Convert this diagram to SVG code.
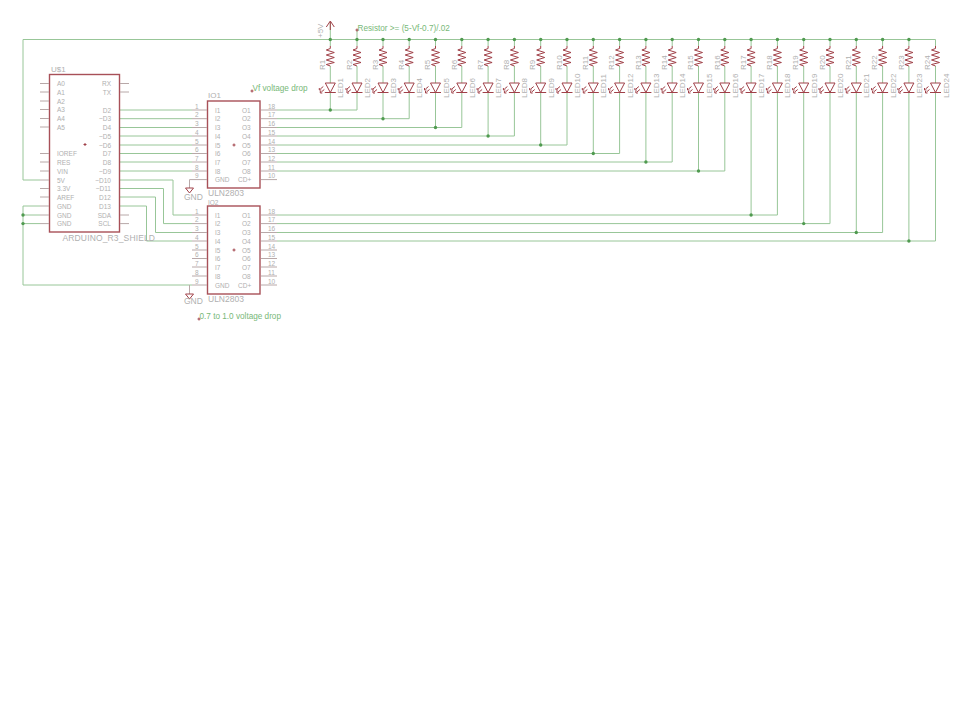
<svg xmlns="http://www.w3.org/2000/svg" xmlns:xlink="http://www.w3.org/1999/xlink" width="960" height="720" viewBox="0 0 960 720">
<style>
text{font-family:"Liberation Sans",Arial,sans-serif;fill:#b0b0b0}
.w{fill:none;stroke:#98c698;stroke-width:1}
.pin{fill:none;stroke:#b8a8a8;stroke-width:1}
.box{fill:none;stroke:#a85058;stroke-width:1.4}
.sym{fill:none;stroke:#a04048;stroke-width:1}
.j{fill:#4f9a4f}
.s{font-size:6.5px}
.n{font-size:8px}
.m{font-size:8.5px}
.g{font-size:8.2px;fill:#78b878}
.e{text-anchor:end}
</style>
<defs>
<g id="res"><path class="w" d="M0 66V83"/><path class="sym" d="M0 46V48.500L-4 50L4 52.500L-4 55L4 57.500L-4 60L4 62.500L-4 64.500L0 66"/></g>
<g id="led"><path class="sym" d="M-5 83H5L0 92.500ZM-5.500 92.500H5.500"/><path class="sym" d="M-7 86.500L-10 89M-6 89.500L-9 92M-11 88V90H-9M-10 91V93H-8"/></g>
<g id="gnd"><path class="sym" d="M-4 0H4L0 5Z"/></g>
<circle id="dot" class="j" r="1.7"/>
<path id="cr" class="sym" d="M-1.500 0H1.500M0 -1.500V1.500"/>
</defs>

<g id="connectors">
<path class="w" d="M23 39.500H935.500V46M23 39.500V180H40M23 206H40M23 215H40M23 223.600H40M23 206V285H192"/>
<path class="w" d="M330.300 22V46M357 30V46M383 39.500V46M409.200 39.500V46M435.500 39.500V46M461.800 39.500V46M488.100 39.500V46M514.400 39.500V46M540.700 39.500V46M567 39.500V46M593.300 39.500V46M619.600 39.500V46M645.900 39.500V46M672.200 39.500V46M698.500 39.500V46M724.800 39.500V46M751.100 39.500V46M777.400 39.500V46M803.700 39.500V46M830 39.500V46M856.300 39.500V46M882.600 39.500V46M908.900 39.500V46"/>
<path class="w" d="M120 110H192M120 118.700H192M120 127.500H192M120 136H192M120 145H192M120 153.500H192M120 162H192M120 171H192"/>
<path class="w" d="M120 180H173V215H192M120 188.500H163.500V223.600H192M120 197H155.500V232.500H192M120 206H146.500V241H192"/>
<path class="w" d="M277 110H357V92M330.300 92V110M277 118.700H409.200V92M383 92V118.700M277 127.500H461.800V92M435.500 92V127.500M277 136H514.400V92M488.100 92V136M277 145H567V92M540.700 92V145M277 153.500H619.600V92M593.300 92V153.500M277 162H672.200V92M645.900 92V162M277 171H724.800V92M698.500 92V171"/>
<path class="w" d="M277 215H777.400V92M751.100 92V215M277 223.600H830V92M803.700 92V223.600M277 232.500H882.600V92M856.300 92V232.500M277 241H935.500V92M908.900 92V241"/>
<path class="pin" d="M192 179.600H189.500V188M189.500 285V294"/>
<g>
<use xlink:href="#dot" x="330.300" y="39.500"/><use xlink:href="#dot" x="357" y="39.500"/><use xlink:href="#dot" x="383" y="39.500"/><use xlink:href="#dot" x="409.200" y="39.500"/><use xlink:href="#dot" x="435.500" y="39.500"/><use xlink:href="#dot" x="461.800" y="39.500"/><use xlink:href="#dot" x="488.100" y="39.500"/><use xlink:href="#dot" x="514.400" y="39.500"/><use xlink:href="#dot" x="540.700" y="39.500"/><use xlink:href="#dot" x="567" y="39.500"/><use xlink:href="#dot" x="593.300" y="39.500"/><use xlink:href="#dot" x="619.600" y="39.500"/><use xlink:href="#dot" x="645.900" y="39.500"/><use xlink:href="#dot" x="672.200" y="39.500"/><use xlink:href="#dot" x="698.500" y="39.500"/><use xlink:href="#dot" x="724.800" y="39.500"/><use xlink:href="#dot" x="751.100" y="39.500"/><use xlink:href="#dot" x="777.400" y="39.500"/><use xlink:href="#dot" x="803.700" y="39.500"/><use xlink:href="#dot" x="830" y="39.500"/><use xlink:href="#dot" x="856.300" y="39.500"/><use xlink:href="#dot" x="882.600" y="39.500"/><use xlink:href="#dot" x="908.900" y="39.500"/>
<use xlink:href="#dot" x="330.300" y="110"/><use xlink:href="#dot" x="383" y="118.700"/><use xlink:href="#dot" x="435.500" y="127.500"/><use xlink:href="#dot" x="488.100" y="136"/><use xlink:href="#dot" x="540.700" y="145"/><use xlink:href="#dot" x="593.300" y="153.500"/><use xlink:href="#dot" x="645.900" y="162"/><use xlink:href="#dot" x="698.500" y="171"/><use xlink:href="#dot" x="751.100" y="215"/><use xlink:href="#dot" x="803.700" y="223.600"/><use xlink:href="#dot" x="856.300" y="232.500"/><use xlink:href="#dot" x="908.900" y="241"/>
<use xlink:href="#dot" x="23" y="215"/><use xlink:href="#dot" x="23" y="223.600"/>
</g>
</g>

<g id="U1">
<rect class="box" x="49.500" y="74.500" width="70" height="157.500"/>
<path class="pin" d="M40 83.500H49M40 92H49M40 101H49M40 109.500H49M40 118.500H49M40 127H49M40 153.500H49M40 162H49M40 171H49M40 180H49M40 188.500H49M40 197H49M40 206H49M40 215H49M40 223.600H49M120 83.500H129M120 92H129M120 215H129M120 223.600H129"/>
<use xlink:href="#cr" x="85" y="144.500"/>
<text class="n" x="51" y="72">U$1</text>
<text class="m" x="62.500" y="241" textLength="92.500">ARDUINO_R3_SHIELD</text>
<g class="s">
<text x="57" y="86">A0</text><text x="57" y="95">A1</text><text x="57" y="103.500">A2</text><text x="57" y="112">A3</text><text x="57" y="121">A4</text><text x="57" y="130">A5</text>
<text x="57" y="156">IOREF</text><text x="57" y="165">RES</text><text x="57" y="174">VIN</text><text x="57" y="182.500">5V</text><text x="57" y="191">3.3V</text><text x="57" y="200">AREF</text><text x="57" y="208.500">GND</text><text x="57" y="217.500">GND</text><text x="57" y="226">GND</text>
<text class="e" x="111" y="86">RX</text><text class="e" x="111" y="95">TX</text><text class="e" x="111" y="112.500">D2</text><text class="e" x="111" y="121">~D3</text><text class="e" x="111" y="130">D4</text><text class="e" x="111" y="139">~D5</text><text class="e" x="111" y="147.500">~D6</text><text class="e" x="111" y="156">D7</text><text class="e" x="111" y="165">D8</text><text class="e" x="111" y="174">~D9</text><text class="e" x="111" y="182.500">~D10</text><text class="e" x="111" y="191">~D11</text><text class="e" x="111" y="200">D12</text><text class="e" x="111" y="208.500">D13</text><text class="e" x="111" y="217.500">SDA</text><text class="e" x="111" y="226">SCL</text>
</g>
</g>

<g id="IO1">
<rect class="box" x="207.500" y="101" width="52.500" height="87"/>
<path class="pin" d="M192 110H207M192 118.700H207M192 127.500H207M192 136H207M192 145H207M192 153.500H207M192 162H207M192 171H207M192 179.600H207M261 110H277M261 118.700H277M261 127.500H277M261 136H277M261 145H277M261 153.500H277M261 162H277M261 171H277M261 179.600H277"/>
<use xlink:href="#cr" x="234" y="145"/>
<text class="n" x="208" y="98">IO1</text><text class="m" x="208" y="196">ULN2803</text>
<g class="s">
<text x="215" y="112.500">I1</text><text x="215" y="121">I2</text><text x="215" y="130">I3</text><text x="215" y="138.500">I4</text><text x="215" y="147.500">I5</text><text x="215" y="156">I6</text><text x="215" y="165">I7</text><text x="215" y="173.500">I8</text><text x="215" y="182">GND</text>
<text x="242" y="112.500">O1</text><text x="242" y="121">O2</text><text x="242" y="130">O3</text><text x="242" y="138.500">O4</text><text x="242" y="147.500">O5</text><text x="242" y="156">O6</text><text x="242" y="165">O7</text><text x="242" y="173.500">O8</text><text x="238" y="182">CD+</text>
<text x="195" y="108.500">1</text><text x="195" y="117">2</text><text x="195" y="126">3</text><text x="195" y="134.500">4</text><text x="195" y="143.500">5</text><text x="195" y="152">6</text><text x="195" y="160.500">7</text><text x="195" y="169.500">8</text><text x="195" y="178">9</text>
<text x="268" y="108.500">18</text><text x="268" y="117">17</text><text x="268" y="126">16</text><text x="268" y="134.500">15</text><text x="268" y="143.500">14</text><text x="268" y="152">13</text><text x="268" y="160.500">12</text><text x="268" y="169.500">11</text><text x="268" y="178">10</text>
</g>
</g>

<g id="IO2">
<rect class="box" x="207.500" y="206" width="52.500" height="88"/>
<path class="pin" d="M192 215H207M192 223.600H207M192 232.500H207M192 241H207M192 250H207M192 258.500H207M192 267H207M192 276H207M192 285H207M261 215H277M261 223.600H277M261 232.500H277M261 241H277M261 250H277M261 258.500H277M261 267H277M261 276H277M261 285H277"/>
<use xlink:href="#cr" x="234" y="250"/>
<text class="s" x="208" y="204.500">IO2</text><text class="m" x="208" y="302">ULN2803</text>
<g class="s">
<text x="215" y="217.500">I1</text><text x="215" y="226">I2</text><text x="215" y="235">I3</text><text x="215" y="243.500">I4</text><text x="215" y="252.500">I5</text><text x="215" y="261">I6</text><text x="215" y="270">I7</text><text x="215" y="278.500">I8</text><text x="215" y="287.500">GND</text>
<text x="242" y="217.500">O1</text><text x="242" y="226">O2</text><text x="242" y="235">O3</text><text x="242" y="243.500">O4</text><text x="242" y="252.500">O5</text><text x="242" y="261">O6</text><text x="242" y="270">O7</text><text x="242" y="278.500">O8</text><text x="238" y="287.500">CD+</text>
<text x="195" y="213.500">1</text><text x="195" y="222">2</text><text x="195" y="231">3</text><text x="195" y="239.500">4</text><text x="195" y="248.500">5</text><text x="195" y="257">6</text><text x="195" y="265.500">7</text><text x="195" y="274.500">8</text><text x="195" y="283.500">9</text>
<text x="268" y="213.500">18</text><text x="268" y="222">17</text><text x="268" y="231">16</text><text x="268" y="239.500">15</text><text x="268" y="248.500">14</text><text x="268" y="257">13</text><text x="268" y="265.500">12</text><text x="268" y="274.500">11</text><text x="268" y="283.500">10</text>
</g>
</g>

<g id="GND1"><use xlink:href="#gnd" x="189.500" y="188"/><text class="m" x="184" y="199.500">GND</text></g>
<g id="GND2"><use xlink:href="#gnd" x="189.500" y="294"/><text class="m" x="184" y="303.500">GND</text></g>
<g id="P5V"><path class="sym" d="M330.300 22V30M326.300 27L330.300 21L334.300 27"/><text class="n" transform="translate(322.500 38) rotate(-90)">+5V</text></g>

<g id="notes">
<use xlink:href="#cr" x="357" y="30"/><text class="g" x="357.500" y="30.500">Resistor &gt;= (5-Vf-0.7)/.02</text>
<use xlink:href="#cr" x="252" y="91"/><text class="g" x="252.500" y="91">Vf voltage drop</text>
<use xlink:href="#cr" x="199" y="319"/><text class="g" x="199.500" y="319">0.7 to 1.0 voltage drop</text>
</g>

<g id="R1"><use xlink:href="#res" x="330.300"/><text class="n" transform="translate(325 70) rotate(-90)">R1</text></g>
<g id="LED1"><use xlink:href="#led" x="330.300"/><text class="n" transform="translate(343.300 98) rotate(-90)">LED1</text></g>
<g id="R2"><use xlink:href="#res" x="357"/><text class="n" transform="translate(351.700 70) rotate(-90)">R2</text></g>
<g id="LED2"><use xlink:href="#led" x="357"/><text class="n" transform="translate(370 98) rotate(-90)">LED2</text></g>
<g id="R3"><use xlink:href="#res" x="383"/><text class="n" transform="translate(377.700 70) rotate(-90)">R3</text></g>
<g id="LED3"><use xlink:href="#led" x="383"/><text class="n" transform="translate(396 98) rotate(-90)">LED3</text></g>
<g id="R4"><use xlink:href="#res" x="409.200"/><text class="n" transform="translate(403.900 70) rotate(-90)">R4</text></g>
<g id="LED4"><use xlink:href="#led" x="409.200"/><text class="n" transform="translate(422.200 98) rotate(-90)">LED4</text></g>
<g id="R5"><use xlink:href="#res" x="435.500"/><text class="n" transform="translate(430.200 70) rotate(-90)">R5</text></g>
<g id="LED5"><use xlink:href="#led" x="435.500"/><text class="n" transform="translate(448.500 98) rotate(-90)">LED5</text></g>
<g id="R6"><use xlink:href="#res" x="461.800"/><text class="n" transform="translate(456.500 70) rotate(-90)">R6</text></g>
<g id="LED6"><use xlink:href="#led" x="461.800"/><text class="n" transform="translate(474.800 98) rotate(-90)">LED6</text></g>
<g id="R7"><use xlink:href="#res" x="488.100"/><text class="n" transform="translate(482.800 70) rotate(-90)">R7</text></g>
<g id="LED7"><use xlink:href="#led" x="488.100"/><text class="n" transform="translate(501.100 98) rotate(-90)">LED7</text></g>
<g id="R8"><use xlink:href="#res" x="514.400"/><text class="n" transform="translate(509.100 70) rotate(-90)">R8</text></g>
<g id="LED8"><use xlink:href="#led" x="514.400"/><text class="n" transform="translate(527.400 98) rotate(-90)">LED8</text></g>
<g id="R9"><use xlink:href="#res" x="540.700"/><text class="n" transform="translate(535.400 70) rotate(-90)">R9</text></g>
<g id="LED9"><use xlink:href="#led" x="540.700"/><text class="n" transform="translate(553.700 98) rotate(-90)">LED9</text></g>
<g id="R10"><use xlink:href="#res" x="567"/><text class="n" transform="translate(561.700 70) rotate(-90)">R10</text></g>
<g id="LED10"><use xlink:href="#led" x="567"/><text class="n" transform="translate(580 98) rotate(-90)">LED10</text></g>
<g id="R11"><use xlink:href="#res" x="593.300"/><text class="n" transform="translate(588 70) rotate(-90)">R11</text></g>
<g id="LED11"><use xlink:href="#led" x="593.300"/><text class="n" transform="translate(606.300 98) rotate(-90)">LED11</text></g>
<g id="R12"><use xlink:href="#res" x="619.600"/><text class="n" transform="translate(614.300 70) rotate(-90)">R12</text></g>
<g id="LED12"><use xlink:href="#led" x="619.600"/><text class="n" transform="translate(632.600 98) rotate(-90)">LED12</text></g>
<g id="R13"><use xlink:href="#res" x="645.900"/><text class="n" transform="translate(640.600 70) rotate(-90)">R13</text></g>
<g id="LED13"><use xlink:href="#led" x="645.900"/><text class="n" transform="translate(658.900 98) rotate(-90)">LED13</text></g>
<g id="R14"><use xlink:href="#res" x="672.200"/><text class="n" transform="translate(666.900 70) rotate(-90)">R14</text></g>
<g id="LED14"><use xlink:href="#led" x="672.200"/><text class="n" transform="translate(685.200 98) rotate(-90)">LED14</text></g>
<g id="R15"><use xlink:href="#res" x="698.500"/><text class="n" transform="translate(693.200 70) rotate(-90)">R15</text></g>
<g id="LED15"><use xlink:href="#led" x="698.500"/><text class="n" transform="translate(711.500 98) rotate(-90)">LED15</text></g>
<g id="R16"><use xlink:href="#res" x="724.800"/><text class="n" transform="translate(719.500 70) rotate(-90)">R16</text></g>
<g id="LED16"><use xlink:href="#led" x="724.800"/><text class="n" transform="translate(737.800 98) rotate(-90)">LED16</text></g>
<g id="R17"><use xlink:href="#res" x="751.100"/><text class="n" transform="translate(745.800 70) rotate(-90)">R17</text></g>
<g id="LED17"><use xlink:href="#led" x="751.100"/><text class="n" transform="translate(764.100 98) rotate(-90)">LED17</text></g>
<g id="R18"><use xlink:href="#res" x="777.400"/><text class="n" transform="translate(772.100 70) rotate(-90)">R18</text></g>
<g id="LED18"><use xlink:href="#led" x="777.400"/><text class="n" transform="translate(790.400 98) rotate(-90)">LED18</text></g>
<g id="R19"><use xlink:href="#res" x="803.700"/><text class="n" transform="translate(798.400 70) rotate(-90)">R19</text></g>
<g id="LED19"><use xlink:href="#led" x="803.700"/><text class="n" transform="translate(816.700 98) rotate(-90)">LED19</text></g>
<g id="R20"><use xlink:href="#res" x="830"/><text class="n" transform="translate(824.700 70) rotate(-90)">R20</text></g>
<g id="LED20"><use xlink:href="#led" x="830"/><text class="n" transform="translate(843 98) rotate(-90)">LED20</text></g>
<g id="R21"><use xlink:href="#res" x="856.300"/><text class="n" transform="translate(851 70) rotate(-90)">R21</text></g>
<g id="LED21"><use xlink:href="#led" x="856.300"/><text class="n" transform="translate(869.300 98) rotate(-90)">LED21</text></g>
<g id="R22"><use xlink:href="#res" x="882.600"/><text class="n" transform="translate(877.300 70) rotate(-90)">R22</text></g>
<g id="LED22"><use xlink:href="#led" x="882.600"/><text class="n" transform="translate(895.600 98) rotate(-90)">LED22</text></g>
<g id="R23"><use xlink:href="#res" x="908.900"/><text class="n" transform="translate(903.600 70) rotate(-90)">R23</text></g>
<g id="LED23"><use xlink:href="#led" x="908.900"/><text class="n" transform="translate(921.900 98) rotate(-90)">LED23</text></g>
<g id="R24"><use xlink:href="#res" x="935.500"/><text class="n" transform="translate(930.200 70) rotate(-90)">R24</text></g>
<g id="LED24"><use xlink:href="#led" x="935.500"/><text class="n" transform="translate(948.500 98) rotate(-90)">LED24</text></g>
</svg>
